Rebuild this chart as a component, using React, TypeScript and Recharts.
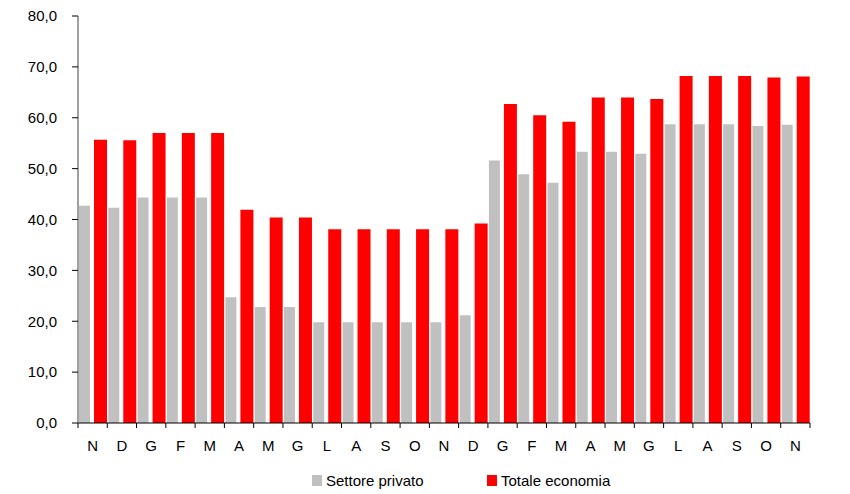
import React from "react";
import { BarChart, Bar, XAxis, YAxis, Legend } from "recharts";

// Mesi (nov -> nov, due anni)
const months = ["N", "D", "G", "F", "M", "A", "M", "G", "L", "A", "S", "O", "N", "D", "G", "F", "M", "A", "M", "G", "L", "A", "S", "O", "N"];

const settorePrivato = [42.7, 42.3, 44.3, 44.3, 44.3, 24.7, 22.8, 22.8, 19.8, 19.8, 19.8, 19.8, 19.8, 21.2, 51.6, 48.9, 47.2, 53.3, 53.3, 52.9, 58.7, 58.7, 58.7, 58.4, 58.6];

const totaleEconomia = [55.7, 55.6, 57.0, 57.0, 57.0, 41.9, 40.4, 40.4, 38.1, 38.1, 38.1, 38.1, 38.1, 39.2, 62.7, 60.5, 59.2, 64.0, 64.0, 63.7, 68.2, 68.2, 68.2, 67.9, 68.1];

const yTicks = [0, 10, 20, 30, 40, 50, 60, 70, 80];

const data = months.map((m, i) => ({
  month: m,
  privato: settorePrivato[i],
  totale: totaleEconomia[i],
}));

const FONT = "'Liberation Sans', Arial, sans-serif";
const PLOT_LEFT = 78;
const PLOT_RIGHT = 810;
const BAND = (PLOT_RIGHT - PLOT_LEFT) / months.length;

function MonthTick(props: any) {
  const { x, y, payload, index } = props;
  return (
    <g>
      <line x1={x - BAND / 2} x2={x - BAND / 2} y1={y} y2={y + 5} stroke="#000" />
      {index === months.length - 1 && (
        <line x1={x + BAND / 2} x2={x + BAND / 2} y1={y} y2={y + 5} stroke="#000" />
      )}
      <text x={x} y={y + 28} textAnchor="middle" fill="#000" fontSize={15} fontFamily={FONT}>
        {payload.value}
      </text>
    </g>
  );
}

function LegendContent() {
  const item = (color: string, label: string, width: number) => (
    <div style={{ display: "flex", alignItems: "center", width }}>
      <span style={{ display: "inline-block", width: 10, height: 11, background: color, marginRight: 4 }} />
      <span>{label}</span>
    </div>
  );
  return (
    <div style={{ display: "flex", paddingLeft: 312, fontFamily: FONT, fontSize: 15, color: "#000", height: 24, alignItems: "center" }}>
      {item("#C0C0C0", "Settore privato", 175)}
      {item("#FF0000", "Totale economia", 160)}
    </div>
  );
}

export default function App() {
  return (
    <div style={{ position: "absolute", left: 0, top: 0, background: "#fff" }}>
      <BarChart
        width={850}
        height={494}
        data={data}
        margin={{ top: 16, right: 850 - PLOT_RIGHT, bottom: 2, left: 0 }}
        barGap={4}
      >
        <XAxis
          dataKey="month"
          interval={0}
          stroke="#000"
          tickLine={false}
          tickSize={0}
          tickMargin={0}
          height={45}
          tick={<MonthTick />}
        />
        <YAxis
          width={PLOT_LEFT}
          domain={[0, 80]}
          ticks={yTicks}
          interval={0}
          axisLine={{ stroke: "#808080", strokeWidth: 1.5 }}
          tickLine={{ stroke: "#000" }}
          tickSize={6}
          tickMargin={15}
          tick={{ fill: "#000", fontSize: 15, fontFamily: FONT }}
          tickFormatter={(v: number) => v.toFixed(1).replace(".", ",")}
        />
        <Legend verticalAlign="bottom" height={24} content={<LegendContent />} />
        <Bar dataKey="privato" name="Settore privato" fill="#C0C0C0" barSize={11} isAnimationActive={false} />
        <Bar dataKey="totale" name="Totale economia" fill="#FF0000" barSize={13} isAnimationActive={false} />
      </BarChart>
    </div>
  );
}
